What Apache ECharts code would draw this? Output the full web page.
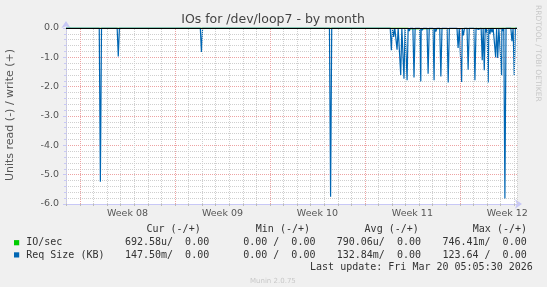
<!DOCTYPE html>
<html><head><meta charset="utf-8">
<script src="https://cdn.jsdelivr.net/npm/echarts@6/dist/echarts.min.js"></script>
<style>html,body{margin:0;padding:0;background:#f0f0f0}#c{width:547px;height:287px}</style>
</head><body><div id="c"></div>
<script>
// Time is in days since Mon Feb 16 2026 00:00 (start of Week 08)
const weekLabels = ['Week 08', 'Week 09', 'Week 10', 'Week 11', 'Week 12'];
const weekStartDays = [0, 7, 14, 21, 28];
const axisStartDay = -1.034;
const axisEndDay = 32.212;           // Fri Mar 20 05:05
const sampleStepDays = 1 / 12;       // 2 h consolidation step
const yMin = -6, yMax = 0;

// Req Size (KB), read (-) side: spike times and values
const reqSizeDays = [1.50, 2.82, 8.95, 18.47, 22.95, 23.12, 23.37, 23.64, 23.88, 24.11, 24.27, 24.62,
  25.12, 25.23, 25.66, 26.10, 26.23, 26.60, 27.14, 27.87, 28.13, 28.26, 28.61, 29.11, 29.37,
  29.65, 29.80, 29.95, 30.09, 30.22, 30.37, 30.64, 30.79, 31.08, 31.18, 31.32, 31.84, 32.01];
const reqSizeRead = [-5.24, -0.97, -0.82, -5.75, -0.76, -0.30, -0.74, -1.60, -1.73, -1.78, -0.10, -1.69,
  -1.82, -0.08, -1.56, -1.78, -0.12, -1.65, -1.86, -0.68, -1.84, -0.25, -1.42, -1.78, -0.05,
  -1.10, -1.44, -0.15, -1.86, -0.20, -0.15, -1.00, -1.02, -1.61, -0.10, -5.81, -0.45, -1.61];

// IO/sec, read (-) side
const ioSecDays = [24.22, 24.30];
const ioSecRead = [-0.04, -0.03];

// Legend table
const legendHeaders = ['Cur (-/+)', 'Min (-/+)', 'Avg (-/+)', 'Max (-/+)'];
const legendNames = ['IO/sec', 'Req Size (KB)'];
const legendColors = ['#00cc00', '#0066b3'];
const legendValues = [
  ['692.58u/  0.00', '0.00 /  0.00', '790.06u/  0.00', '746.41m/  0.00'],
  ['147.50m/  0.00', '0.00 /  0.00', '132.84m/  0.00', '123.64 /  0.00']
];
const lastUpdate = 'Last update: Fri Mar 20 05:05:30 2026';

function spikeSeries(days, vals) {
  const pts = [[axisStartDay, 0], [axisEndDay, 0]];
  days.forEach((d, i) => { pts.push([d - sampleStepDays, 0], [d, vals[i]], [d + sampleStepDays, 0]); });
  pts.sort((a, b) => a[0] - b[0]);
  return pts;
}

const dayLines = [];
for (let d = Math.ceil(axisStartDay); d <= Math.floor(axisEndDay); d++) dayLines.push(d);
const weekMid = weekStartDays.map(d => d + 3.5);

const gridMarks = [];
dayLines.forEach(d => {
  if (weekStartDays.indexOf(d) < 0) gridMarks.push({ xAxis: d, lineStyle: { color: '#cfcfcf', type: [1, 1], width: 1 } });
});
gridMarks.push({ xAxis: axisEndDay, lineStyle: { color: '#cfcfcf', type: [1, 1], width: 1 } });
weekStartDays.forEach(d => gridMarks.push({ xAxis: d, lineStyle: { color: '#eda3a3', type: [1, 1], width: 1 } }));

const mono = '10px "DejaVu Sans Mono"';
const graphics = [
  { type: 'text', x: 273, y: 19.5, style: { text: 'IOs for /dev/loop7 - by month', font: '12.5px "DejaVu Sans"', fill: '#444', textAlign: 'center', textVerticalAlign: 'middle' } },
  { type: 'text', x: 10.5, y: 115, rotation: Math.PI / 2, style: { text: 'Units read (-) / write (+)', font: '11px "DejaVu Sans"', fill: '#555', textAlign: 'center', textVerticalAlign: 'middle' } },
  { type: 'text', x: 538.3, y: 53.3, rotation: -Math.PI / 2, style: { text: 'RRDTOOL / TOBI OETIKER', font: '7.5px "DejaVu Sans"', fill: '#c8c8c8', textAlign: 'center', textVerticalAlign: 'middle' } },
  { type: 'text', x: 272.9, y: 280.8, style: { text: 'Munin 2.0.75', font: '7px "DejaVu Sans"', fill: '#c8c8c8', textAlign: 'center', textVerticalAlign: 'middle' } },
  { type: 'text', x: 532.8, y: 267.2, style: { text: lastUpdate, font: mono, fill: '#333', textAlign: 'right', textVerticalAlign: 'middle' } }
];
const headerX = [146.5, 255.8, 364.6, 472.8];
const valueX = [124.9, 243.2, 336.7, 442.4];
const rowY = [242.8, 255.0];
legendHeaders.forEach((h, i) => graphics.push({ type: 'text', x: headerX[i], y: 229.9, style: { text: h, font: mono, fill: '#333', textAlign: 'left', textVerticalAlign: 'middle' } }));
legendNames.forEach((n, r) => {
  graphics.push({ type: 'rect', shape: { x: 14, y: rowY[r] - 2.7, width: 5.2, height: 5.2 }, style: { fill: legendColors[r] } });
  graphics.push({ type: 'text', x: 26.2, y: rowY[r], style: { text: n, font: mono, fill: '#333', textAlign: 'left', textVerticalAlign: 'middle' } });
  legendValues[r].forEach((v, i) => graphics.push({ type: 'text', x: valueX[i], y: rowY[r], style: { text: v, font: mono, fill: '#333', textAlign: 'left', textVerticalAlign: 'middle' } }));
});

const axisCol = '#c8c8f6';
const chart = echarts.init(document.getElementById('c'), null, { renderer: 'canvas' });
chart.setOption({
  backgroundColor: '#f0f0f0',
  animation: false,
  grid: { left: 66, top: 28, width: 451, height: 176, show: true, backgroundColor: '#ffffff', borderWidth: 0 },
  xAxis: {
    type: 'value', min: axisStartDay, max: axisEndDay,
    axisLine: { show: true, onZero: false, lineStyle: { color: axisCol, width: 1 }, symbol: ['none', 'arrow'], symbolSize: [7, 7], symbolOffset: [0, 5] },
    axisTick: { show: true, customValues: dayLines, length: 2, lineStyle: { color: '#bbbbbb' } },
    axisLabel: {
      customValues: weekMid, margin: 4.5, color: '#555', fontSize: 9.5, fontFamily: 'DejaVu Sans',
      formatter: v => { let bi = 0; weekMid.forEach((m, i) => { if (Math.abs(m - v) < Math.abs(weekMid[bi] - v)) bi = i; }); return weekLabels[bi]; }
    },
    splitLine: { show: false }
  },
  yAxis: {
    type: 'value', min: yMin, max: yMax, interval: 1,
    axisLine: { show: true, onZero: false, lineStyle: { color: axisCol, width: 1 }, symbol: ['none', 'arrow'], symbolSize: [7, 7], symbolOffset: [0, 7] },
    axisTick: { show: true, length: 3, lineStyle: { color: axisCol } },
    minorTick: { show: true, splitNumber: 5, length: 2, lineStyle: { color: axisCol } },
    axisLabel: { formatter: v => v.toFixed(1), margin: 7, color: '#555', fontSize: 9.5, fontFamily: 'DejaVu Sans' },
    splitLine: { show: true, lineStyle: { color: '#eda3a3', type: [1, 1], width: 1 } },
    minorSplitLine: { show: true, lineStyle: { color: '#cfcfcf', type: [1, 1], width: 1 } }
  },
  graphic: graphics,
  series: [
    {
      type: 'line', name: 'grid', z: 1, silent: true, data: [[axisStartDay, yMin]], showSymbol: false, lineStyle: { opacity: 0 },
      markLine: { silent: true, symbol: ['none', 'none'], label: { show: false }, animation: false, data: gridMarks }
    },
    {
      type: 'line', name: 'IO/sec', z: 3, data: spikeSeries(ioSecDays, ioSecRead), showSymbol: false,
      lineStyle: { color: '#00cc00', width: 1 }, itemStyle: { color: '#00cc00' }
    },
    {
      type: 'line', name: 'Req Size (KB)', z: 4, data: spikeSeries(reqSizeDays, reqSizeRead), showSymbol: false,
      lineStyle: { color: '#0066b3', width: 1.2 }, itemStyle: { color: '#0066b3' },
      markLine: { silent: true, symbol: ['none', 'none'], label: { show: false }, z: 10, data: [{ yAxis: 0, lineStyle: { color: '#000', type: 'solid', width: 1 } }] }
    }
  ]
});
</script></body></html>
